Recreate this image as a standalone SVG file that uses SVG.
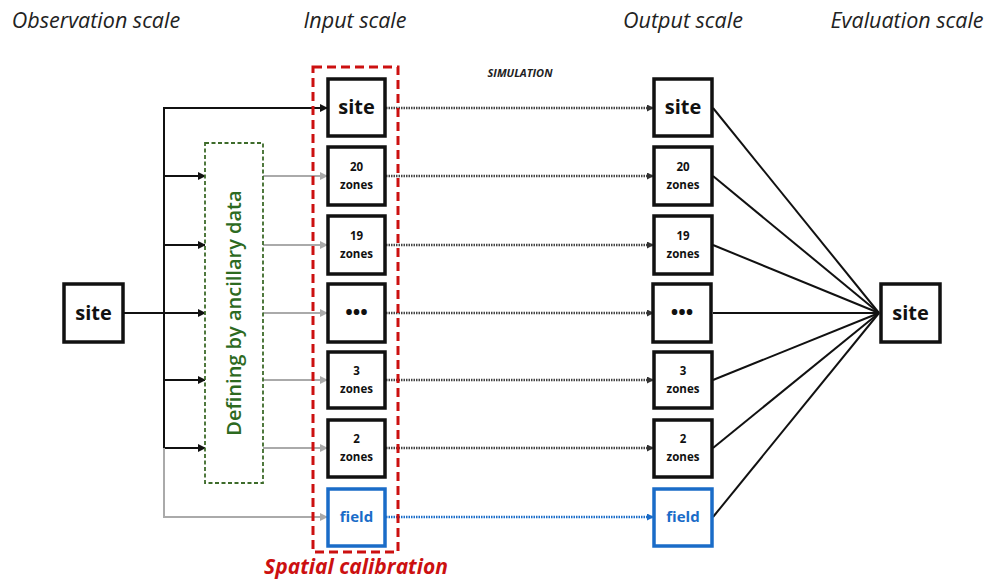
<svg xmlns="http://www.w3.org/2000/svg" width="993" height="583" viewBox="0 0 993 583">
<defs>
<style>
.title{font-family:"Open Sans","Liberation Sans",sans-serif;font-style:italic;font-size:21.5px;fill:#222}
.box{fill:#fff;stroke:#111;stroke-width:3.5}
.bbox{fill:#fff;stroke:#1a6cc8;stroke-width:3.5}
.big{font-family:"Open Sans","Liberation Sans",sans-serif;font-weight:bold;font-size:20px;fill:#111;text-anchor:middle}
.sm{font-family:"Open Sans","Liberation Sans",sans-serif;font-weight:bold;font-size:11.5px;fill:#111;text-anchor:middle}
.fld{font-family:"Open Sans","Liberation Sans",sans-serif;font-weight:bold;font-size:15px;fill:#1a6cc8;text-anchor:middle}
.blk{stroke:#111;stroke-width:2;fill:none}
.gry{stroke:#aaa;stroke-width:2;fill:none}
.dot{stroke:#444;stroke-width:2.5;stroke-dasharray:1.5 1;fill:none}
.bdot{stroke:#1a6cc8;stroke-width:2.5;stroke-dasharray:1.5 1;fill:none}
.fan{stroke:#111;stroke-width:2;fill:none}
</style>
<marker id="ab" markerWidth="8" markerHeight="8" refX="7" refY="4" orient="auto" markerUnits="userSpaceOnUse"><path d="M0,0 L8,4 L0,8 z" fill="#111"/></marker>
<marker id="ag" markerWidth="8" markerHeight="8" refX="7" refY="4" orient="auto" markerUnits="userSpaceOnUse"><path d="M0,0 L8,4 L0,8 z" fill="#aaa"/></marker>
<marker id="ad" markerWidth="7" markerHeight="7" refX="6" refY="3.5" orient="auto" markerUnits="userSpaceOnUse"><path d="M0,0 L7,3.5 L0,7 z" fill="#333"/></marker>
<marker id="abl" markerWidth="7" markerHeight="7" refX="6" refY="3.5" orient="auto" markerUnits="userSpaceOnUse"><path d="M0,0 L7,3.5 L0,7 z" fill="#1a6cc8"/></marker>
</defs>
<rect width="993" height="583" fill="#fff"/>

<g id="titles">
<text class="title" x="96" y="28" text-anchor="middle">Observation scale</text>
<text class="title" x="355" y="28" text-anchor="middle">Input scale</text>
<text class="title" x="683" y="28" text-anchor="middle">Output scale</text>
<text class="title" x="907" y="28" text-anchor="middle">Evaluation scale</text>
<text x="520" y="77" text-anchor="middle" font-family="'Open Sans','Liberation Sans',sans-serif" font-weight="bold" font-style="italic" font-size="11px" fill="#222">SIMULATION</text>
</g>

<g id="connectors">
<path class="blk" d="M123,313 L205,313" marker-end="url(#ab)"/>
<path class="blk" d="M164,448 L164,108 L327,108" marker-end="url(#ab)"/>
<path class="blk" d="M164,176 L205,176" marker-end="url(#ab)"/>
<path class="blk" d="M164,245 L205,245" marker-end="url(#ab)"/>
<path class="blk" d="M164,380 L205,380" marker-end="url(#ab)"/>
<path class="blk" d="M164,448 L205,448" marker-end="url(#ab)"/>
<path class="gry" d="M164,448 L164,517 L327,517" marker-end="url(#ag)"/>
<path class="gry" d="M263,176 L327,176" marker-end="url(#ag)"/>
<path class="gry" d="M263,245 L327,245" marker-end="url(#ag)"/>
<path class="gry" d="M263,313 L327,313" marker-end="url(#ag)"/>
<path class="gry" d="M263,380 L327,380" marker-end="url(#ag)"/>
<path class="gry" d="M263,448 L327,448" marker-end="url(#ag)"/>
<path class="dot" d="M386,108 L653,108" marker-end="url(#ad)"/>
<path class="dot" d="M386,176 L653,176" marker-end="url(#ad)"/>
<path class="dot" d="M386,245 L653,245" marker-end="url(#ad)"/>
<path class="dot" d="M386,313 L653,313" marker-end="url(#ad)"/>
<path class="dot" d="M386,380 L653,380" marker-end="url(#ad)"/>
<path class="dot" d="M386,448 L653,448" marker-end="url(#ad)"/>
<path class="bdot" d="M386,517 L653,517" marker-end="url(#abl)"/>
<path class="fan" d="M713,108 L879,313"/>
<path class="fan" d="M713,176 L879,313"/>
<path class="fan" d="M713,245 L879,313"/>
<path class="fan" d="M713,313 L879,313"/>
<path class="fan" d="M713,380 L879,313"/>
<path class="fan" d="M713,448 L879,313"/>
<path class="fan" d="M713,517 L879,313"/>
</g>

<g id="obs-site"><rect class="box" x="64" y="284" width="59" height="58"/><text class="big" x="93.5" y="320">site</text></g>

<g id="ancillary">
<rect x="205" y="143" width="58" height="340" fill="#fff" stroke="#3d6b2a" stroke-width="1.8" stroke-dasharray="4 2.5"/>
<text transform="translate(241,313) rotate(-90)" text-anchor="middle" font-family="'Open Sans','Liberation Sans',sans-serif" font-size="20px" font-weight="600" fill="#2d6a1f">Defining by ancillary data</text>
</g>

<g id="calibration">
<rect x="313" y="67" width="85" height="485" fill="none" stroke="#cc1010" stroke-width="3" stroke-dasharray="9 5"/>
<text x="356" y="574" text-anchor="middle" font-family="'Open Sans','Liberation Sans',sans-serif" font-weight="bold" font-style="italic" font-size="21px" fill="#cc1010">Spatial calibration</text>
</g>

<g id="in-site"><rect class="box" x="328" y="79" width="57" height="57"/><text class="big" x="356.5" y="114">site</text></g>
<g id="in-20"><rect class="box" x="328" y="147" width="57" height="58"/><text class="sm" x="356.5" y="171">20</text><text class="sm" x="356.5" y="189">zones</text></g>
<g id="in-19"><rect class="box" x="328" y="216" width="57" height="58"/><text class="sm" x="356.5" y="240">19</text><text class="sm" x="356.5" y="258">zones</text></g>
<g id="in-dots"><rect class="box" x="328" y="284" width="57" height="58"/><text class="big" x="356.5" y="319">•••</text></g>
<g id="in-3"><rect class="box" x="328" y="352" width="57" height="56"/><text class="sm" x="356.5" y="375">3</text><text class="sm" x="356.5" y="393">zones</text></g>
<g id="in-2"><rect class="box" x="328" y="420" width="57" height="57"/><text class="sm" x="356.5" y="443">2</text><text class="sm" x="356.5" y="461">zones</text></g>
<g id="in-field"><rect class="bbox" x="328" y="489" width="57" height="57"/><text class="fld" x="356.5" y="522">field</text></g>

<g id="out-site"><rect class="box" x="654" y="79" width="58" height="57"/><text class="big" x="683" y="114">site</text></g>
<g id="out-20"><rect class="box" x="654" y="147" width="58" height="58"/><text class="sm" x="683" y="171">20</text><text class="sm" x="683" y="189">zones</text></g>
<g id="out-19"><rect class="box" x="654" y="216" width="58" height="58"/><text class="sm" x="683" y="240">19</text><text class="sm" x="683" y="258">zones</text></g>
<g id="out-dots"><rect class="box" x="653" y="284" width="58" height="58"/><text class="big" x="682" y="319">•••</text></g>
<g id="out-3"><rect class="box" x="654" y="352" width="58" height="56"/><text class="sm" x="683" y="375">3</text><text class="sm" x="683" y="393">zones</text></g>
<g id="out-2"><rect class="box" x="654" y="420" width="58" height="57"/><text class="sm" x="683" y="443">2</text><text class="sm" x="683" y="461">zones</text></g>
<g id="out-field"><rect class="bbox" x="654" y="489" width="58" height="57"/><text class="fld" x="683" y="522">field</text></g>

<g id="eval-site"><rect class="box" x="881" y="284" width="59" height="58"/><text class="big" x="910.5" y="320">site</text></g>
</svg>
